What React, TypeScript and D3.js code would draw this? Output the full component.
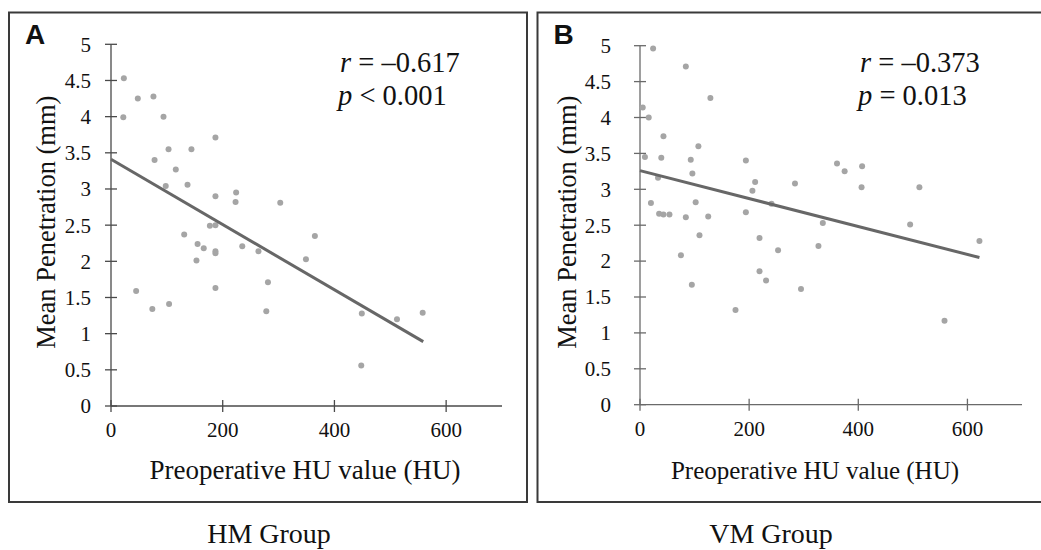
import React from "react";
import * as d3 from "d3";

// Panel A (HM Group)
const hmHU = [23, 48, 76, 22, 94, 187, 103, 144, 78, 116, 98, 137, 187, 224, 223, 303, 177, 187, 131, 365, 155, 166, 187, 187, 235, 264, 153, 349, 281, 45, 187, 74, 104, 278, 449, 512, 558, 448];
const hmPen = [4.53, 4.25, 4.28, 3.99, 4.0, 3.71, 3.55, 3.55, 3.4, 3.27, 3.04, 3.06, 2.9, 2.95, 2.82, 2.81, 2.49, 2.5, 2.37, 2.35, 2.24, 2.18, 2.14, 2.11, 2.21, 2.14, 2.01, 2.03, 1.71, 1.59, 1.63, 1.34, 1.41, 1.31, 1.28, 1.2, 1.29, 0.56];
const hmTrendX = [0, 559];
const hmTrendY = [3.41, 0.89];

// Panel B (VM Group)
const vmHU = [24, 84, 5, 16, 129, 43, 107, 9, 39, 93, 194, 361, 375, 407, 96, 33, 211, 284, 206, 406, 512, 20, 102, 241, 35, 43, 54, 84, 125, 194, 335, 495, 109, 219, 75, 253, 327, 622, 219, 231, 95, 295, 175, 558];
const vmPen = [4.96, 4.71, 4.14, 4.0, 4.27, 3.74, 3.6, 3.45, 3.44, 3.41, 3.4, 3.36, 3.25, 3.32, 3.22, 3.16, 3.1, 3.08, 2.98, 3.03, 3.03, 2.81, 2.82, 2.8, 2.66, 2.65, 2.65, 2.61, 2.62, 2.68, 2.53, 2.51, 2.36, 2.32, 2.08, 2.15, 2.21, 2.28, 1.86, 1.73, 1.67, 1.61, 1.32, 1.17];
const vmTrendX = [0, 622];
const vmTrendY = [3.26, 2.05];

const xTicks = [0, 200, 400, 600];
const yTicks = [0, 0.5, 1, 1.5, 2, 2.5, 3, 3.5, 4, 4.5, 5];
const xDomain = [0, 700];
const yDomain = [0, 5];

const panelLetters = ["A", "B"];
const groupTitles = ["HM Group", "VM Group"];
const rValues = ["\u20130.617", "\u20130.373"];
const pValues = ["< 0.001", "= 0.013"];
const xLabel = "Preoperative HU value (HU)";
const yLabel = "Mean Penetration (mm)";

const SERIF = "'Liberation Serif', 'Times New Roman', serif";
const SANS = "'Liberation Sans', Arial, sans-serif";

type PanelProps = {
  idx: number;
  xs: number[];
  ys: number[];
  tx: number[];
  ty: number[];
  box: [number, number, number, number];
  plot: [number, number, number, number];
  tickGap: number;
  yLabelX: number;
  xLabelCx: number;
  xLabelSize: number;
  titleCx: number;
  axisColor: string;
};

function Panel(p: PanelProps) {
  const [bx0, by0, bx1, by1] = p.box;
  const [px0, py0, px1, py1] = p.plot;
  const x = d3.scaleLinear().domain(xDomain).range([px0, px1]);
  const y = d3.scaleLinear().domain(yDomain).range([py1, py0]);
  const line = d3.line<number>().x((d) => x(p.tx[d])).y((d) => y(p.ty[d]));
  return (
    <g>
      <rect x={bx0} y={by0} width={bx1 - bx0} height={by1 - by0} fill="none" stroke="#3a3a3a" strokeWidth={2} />
      <text x={bx0 + 16} y={44} fontFamily={SANS} fontWeight="bold" fontSize={28} fill="#111">{panelLetters[p.idx]}</text>
      {/* axes */}
      <line x1={px0} x2={px0} y1={y(5)} y2={y(0)} stroke={p.axisColor} strokeWidth={1.3} />
      <line x1={px0} x2={px1} y1={y(0)} y2={y(0)} stroke={p.axisColor} strokeWidth={1.3} />
      {yTicks.map((t) => (
        <g key={"y" + t}>
          <line x1={px0 - 6} x2={px0 + 6} y1={y(t)} y2={y(t)} stroke={p.axisColor} strokeWidth={1.3} />
          <text x={px0 - p.tickGap} y={y(t)} dy="0.35em" textAnchor="end" fontFamily={SERIF} fontSize={21} fill="#111">{String(t)}</text>
        </g>
      ))}
      {xTicks.map((t) => (
        <g key={"x" + t}>
          <line x1={x(t)} x2={x(t)} y1={y(0) - 6} y2={y(0) + 6} stroke={p.axisColor} strokeWidth={1.3} />
          <text x={x(t)} y={y(0) + 31} textAnchor="middle" fontFamily={SERIF} fontSize={21} fill="#111">{String(t)}</text>
        </g>
      ))}
      <text transform={`translate(${p.yLabelX},${(y(0) + y(5)) / 2 - 3}) rotate(-90)`} textAnchor="middle" fontFamily={SERIF} fontSize={26.5} fill="#111">{yLabel}</text>
      <text x={p.xLabelCx} y={479} textAnchor="middle" fontFamily={SERIF} fontSize={p.xLabelSize} fill="#111">{xLabel}</text>
      {/* points */}
      {p.xs.map((v, i) => (
        <circle key={i} cx={x(v)} cy={y(p.ys[i])} r={3} fill="#a5a5a5" />
      ))}
      <path d={line(p.tx.map((_, i) => i)) || ""} fill="none" stroke="#676767" strokeWidth={3} />
      {/* stats */}
      <text x={px1 - 162} y={72} fontFamily={SERIF} fontSize={28.5} fill="#111">
        <tspan fontStyle="italic">r</tspan> = {rValues[p.idx]}
      </text>
      <text x={px1 - 164} y={105} fontFamily={SERIF} fontSize={28.5} fill="#111">
        <tspan fontStyle="italic">p</tspan> {pValues[p.idx]}
      </text>
      <text x={p.titleCx} y={543} textAnchor="middle" fontFamily={SERIF} fontSize={28} fill="#111">{groupTitles[p.idx]}</text>
    </g>
  );
}

export default function App() {
  return (
    <svg width={1041} height={550} style={{ position: "absolute", left: 0, top: 0, background: "#fff" }}>
      <rect x={0} y={0} width={1041} height={550} fill="#fff" />
      <Panel idx={0} xs={hmHU} ys={hmPen} tx={hmTrendX} ty={hmTrendY}
        box={[9, 12.5, 527, 502]} plot={[111, 44.3, 502, 406]} tickGap={20} yLabelX={55}
        xLabelCx={305} xLabelSize={27} titleCx={269} axisColor="#4a4a4a" />
      <Panel idx={1} xs={vmHU} ys={vmPen} tx={vmTrendX} ty={vmTrendY}
        box={[537.5, 12.5, 1046, 502]} plot={[640, 45.7, 1022, 404.7]} tickGap={29} yLabelX={576}
        xLabelCx={815} xLabelSize={25} titleCx={771} axisColor="#6a6a6a" />
    </svg>
  );
}
